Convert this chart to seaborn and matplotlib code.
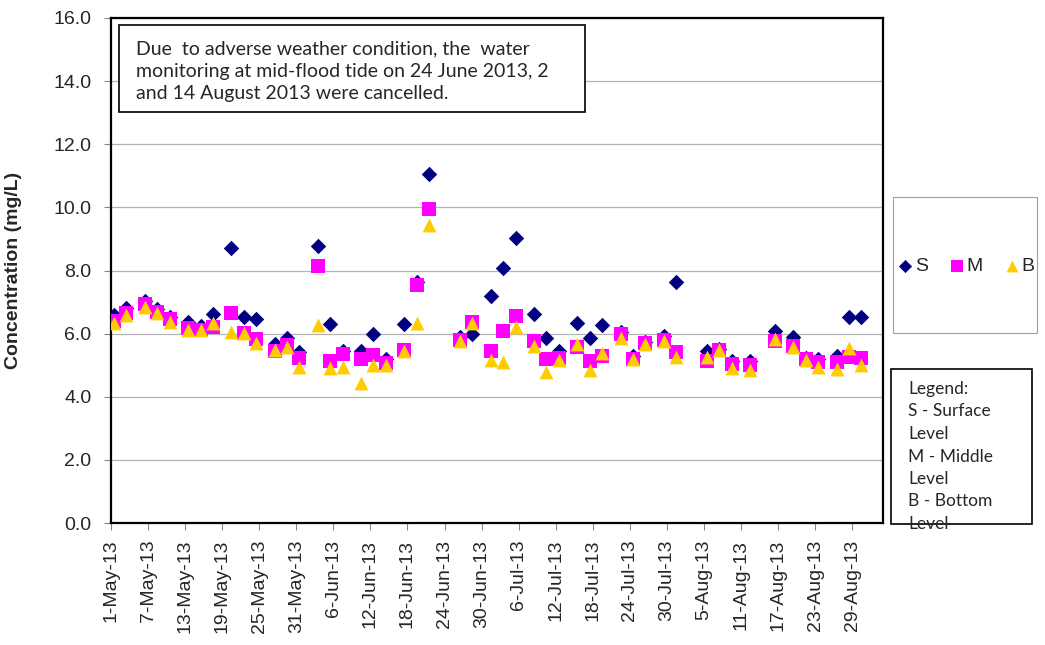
import numpy as np
import pandas as pd
import matplotlib.pyplot as plt
import seaborn as sns
from matplotlib.patches import Rectangle

# sampling days (Mon/Wed/Fri, three surveys cancelled)
dates = ['2013-05-01', '2013-05-03', '2013-05-06', '2013-05-08', '2013-05-10',
         '2013-05-13', '2013-05-15', '2013-05-17', '2013-05-20', '2013-05-22',
         '2013-05-24', '2013-05-27', '2013-05-29', '2013-05-31', '2013-06-03',
         '2013-06-05', '2013-06-07', '2013-06-10', '2013-06-12', '2013-06-14',
         '2013-06-17', '2013-06-19', '2013-06-21', '2013-06-26', '2013-06-28',
         '2013-07-01', '2013-07-03', '2013-07-05', '2013-07-08', '2013-07-10',
         '2013-07-12', '2013-07-15', '2013-07-17', '2013-07-19', '2013-07-22',
         '2013-07-24', '2013-07-26', '2013-07-29', '2013-07-31', '2013-08-05',
         '2013-08-07', '2013-08-09', '2013-08-12', '2013-08-16', '2013-08-19',
         '2013-08-21', '2013-08-23', '2013-08-26', '2013-08-28', '2013-08-30']

surface = [6.59, 6.80, 7.04, 6.77, 6.54, 6.36, 6.24, 6.61, 8.72, 6.52,
           6.46, 5.67, 5.85, 5.41, 8.79, 6.30, 5.46, 5.44, 5.99, 5.20,
           6.30, 7.65, 11.05, 5.90, 5.98, 7.20, 8.07, 9.02, 6.61, 5.85,
           5.44, 6.35, 5.87, 6.27, 6.04, 5.30, 5.73, 5.92, 7.64, 5.46,
           5.51, 5.14, 5.12, 6.08, 5.90, 5.22, 5.20, 5.28, 6.54, 6.54]
middle = [6.41, 6.64, 6.94, 6.70, 6.45, 6.17, 6.12, 6.20, 6.66, 6.03,
          5.82, 5.45, 5.64, 5.22, 8.14, 5.14, 5.35, 5.19, 5.32, 5.06,
          5.48, 7.54, 9.95, 5.80, 6.38, 5.45, 6.08, 6.57, 5.77, 5.19,
          5.22, 5.59, 5.13, 5.30, 5.98, 5.20, 5.69, 5.80, 5.43, 5.14,
          5.48, 5.03, 5.01, 5.78, 5.61, 5.19, 5.09, 5.11, 5.27, 5.22]
bottom = [6.35, 6.59, 6.83, 6.66, 6.38, 6.12, 6.12, 6.35, 6.06, 6.01,
          5.69, 5.48, 5.59, 4.93, 6.27, 4.90, 4.95, 4.43, 5.01, 5.01,
          5.45, 6.33, 9.44, 5.78, 6.35, 5.16, 5.11, 6.20, 5.61, 4.79,
          5.16, 5.66, 4.85, 5.38, 5.85, 5.20, 5.66, 5.77, 5.25, 5.25,
          5.48, 4.92, 4.85, 5.83, 5.57, 5.16, 4.93, 4.88, 5.53, 5.01]

levels = ['S', 'M', 'B']
colours = {'S': '#000080', 'M': '#FF00FF', 'B': '#FFCC00'}
markers = {'S': 'D', 'M': 's', 'B': '^'}
sizes = {'S': 62, 'M': 88, 'B': 100}

tick_dates = pd.date_range('2013-05-01', '2013-08-29', freq='6D')
tick_labels = [f'{d.day}-{d.strftime("%b-%y")}' for d in tick_dates]

note = ('Due  to adverse weather condition, the  water\n'
        'monitoring at mid-flood tide on 24 June 2013, 2\n'
        'and 14 August 2013 were cancelled.')
key_text = 'Legend:\nS - Surface\nLevel\nM - Middle\nLevel\nB - Bottom\nLevel'

df = pd.DataFrame({'Date': pd.to_datetime(dates), 'S': surface, 'M': middle, 'B': bottom})
df = df.melt(id_vars='Date', var_name='Level', value_name='Conc')
# excel date axis puts each point in the middle of its day slot
df['Pos'] = df['Date'] + pd.Timedelta(hours=12)

sns.set_style('white')
plt.rcParams['font.family'] = ['Liberation Sans', 'DejaVu Sans']

fig = plt.figure(figsize=(10.45, 6.45), dpi=100)
ax = fig.add_axes([111 / 1045, 122 / 645, 772 / 1045, 505 / 645])

for lv in levels:
    sns.scatterplot(data=df[df['Level'] == lv], x='Pos', y='Conc',
                    color=colours[lv], marker=markers[lv], s=sizes[lv],
                    linewidth=0, ax=ax, legend=False, zorder=3)

ax.set_ylim(0, 16)
ax.set_yticks(np.arange(0, 16.1, 2))
ax.set_yticklabels([f'{v:.1f}' for v in np.arange(0, 16.1, 2)])
ax.yaxis.grid(True, color='#b4b4b4', lw=0.9)
ax.set_axisbelow(True)

ax.set_xlim(pd.Timestamp('2013-05-01'), pd.Timestamp('2013-09-03'))
ax.set_xticks(tick_dates)
ax.set_xticklabels(tick_labels, rotation=90)

ax.tick_params(axis='both', direction='out', length=5, width=0.8, color='#888888',
               labelsize=14, bottom=True, left=True)
ax.tick_params(axis='y', pad=9)
ax.tick_params(axis='x', pad=7)
for sp in ax.spines.values():
    sp.set_color('black')
    sp.set_linewidth(1.6)

ax.set_xlabel('')
ax.set_ylabel('Concentration (mg/L)', fontsize=14, fontweight='bold')
ax.yaxis.set_label_coords(-0.115, 0.5)

# note box
fig.patches.append(Rectangle((119 / 1045, 1 - 112 / 645), 466 / 1045, 87 / 645,
                             transform=fig.transFigure, facecolor='white',
                             edgecolor='black', lw=1.2, zorder=1))
fig.text(136 / 1045, 1 - 40 / 645, note, ha='left', va='top',
         family=['Lato', 'DejaVu Sans'], fontsize=14, linespacing=1.4, zorder=3)

# marker legend box
fig.patches.append(Rectangle((893 / 1045, 1 - 333 / 645), 144 / 1045, 136 / 645,
                             transform=fig.transFigure, facecolor='white',
                             edgecolor='#a0a0a0', lw=0.8, zorder=1))
fig.legend(handles=ax.collections[:3], labels=levels, loc='center',
           bbox_to_anchor=(965 / 1045, 1 - 266 / 645), ncol=3, frameon=False,
           fontsize=14, handletextpad=0.0, columnspacing=1.0,
           markerscale=0.85, handlelength=1.0)

# text legend box
fig.patches.append(Rectangle((891 / 1045, 1 - 524 / 645), 141 / 1045, 155 / 645,
                             transform=fig.transFigure, facecolor='white',
                             edgecolor='black', lw=1.2, zorder=1))
fig.text(908 / 1045, 1 - 381 / 645, key_text, ha='left', va='top',
         family=['Lato', 'DejaVu Sans'], fontsize=12.5, linespacing=1.5, zorder=3)

fig.savefig('out.png', dpi=100)
